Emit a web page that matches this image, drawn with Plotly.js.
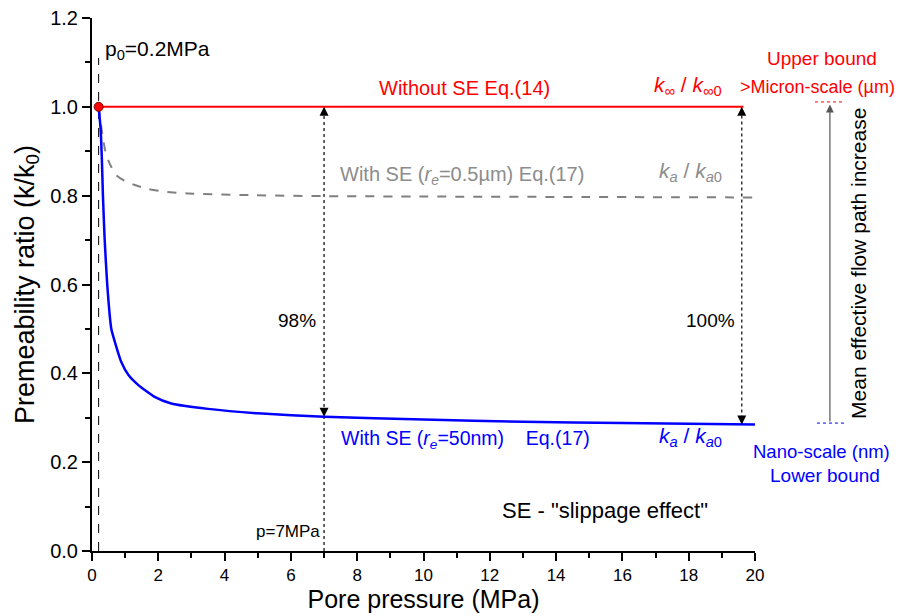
<!DOCTYPE html>
<html>
<head>
<meta charset="utf-8">
<script src="https://cdn.plot.ly/plotly-3.0.1.min.js"></script>
<style>html,body{margin:0;padding:0;background:#fff;}#chart{width:921px;height:616px;}</style>
</head>
<body>
<div id="chart"></div>
<script>
// ---- data ----
const pressureNano = [0.2, 0.26, 0.30, 0.33, 0.38, 0.46, 0.58, 0.70, 0.88, 1.1, 1.39, 1.89, 2.39, 3.5, 5, 7, 10, 13, 16, 20];
const ratioNano    = [1.0, 0.95, 0.876, 0.80, 0.704, 0.599, 0.501, 0.468, 0.426, 0.396, 0.374, 0.347, 0.332, 0.320, 0.310, 0.302, 0.296, 0.291, 0.288, 0.285];
const pressureMicro = [0.2, 0.33, 0.43, 0.58, 0.73, 0.99, 1.29, 1.69, 2.19, 2.9, 4.9, 7, 10, 15, 20];
const ratioMicro    = [1.0, 0.929, 0.891, 0.865, 0.846, 0.833, 0.824, 0.815, 0.809, 0.805, 0.801, 0.799, 0.798, 0.797, 0.796];
const pressureNoSE = [0.2, 19.65];
const ratioNoSE    = [1.0, 1.0];
const p0 = 0.2;
const pMid = 7;
const pEnd = 19.6;
const ratioMidNano = 0.302;
const ratioEndNano = 0.285;
const xTicks = [0, 2, 4, 6, 8, 10, 12, 14, 16, 18, 20];
const yTicks = [0.0, 0.2, 0.4, 0.6, 0.8, 1.0, 1.2];

const FONT = 'Liberation Sans, Arial, sans-serif';

const traces = [
  {x: [p0, p0], y: [0, 1.11], mode: 'lines', line: {color: '#000', width: 1, dash: 'dash'}, hoverinfo: 'skip'},
  {x: [pMid, pMid], y: [0, 1.0], mode: 'lines', line: {color: '#333', width: 1.5, dash: 'dot'}, hoverinfo: 'skip'},
  {x: [pEnd, pEnd], y: [ratioEndNano, 1.0], mode: 'lines', line: {color: '#333', width: 1.5, dash: 'dot'}, hoverinfo: 'skip'},
  {x: pressureMicro, y: ratioMicro, mode: 'lines', line: {color: '#808080', width: 2, dash: 'dash', shape: 'spline', smoothing: 0.5}},
  {x: pressureNoSE, y: ratioNoSE, mode: 'lines', line: {color: '#ff0000', width: 2}},
  {x: pressureNano, y: ratioNano, mode: 'lines', line: {color: '#0000ff', width: 2.5, shape: 'spline', smoothing: 0.5}},
  {x: [pMid, pEnd], y: [1.0, 1.0], mode: 'markers', marker: {symbol: 'arrow-up', size: 9, color: '#000'}, hoverinfo: 'skip'},
  {x: [pMid, pEnd], y: [ratioMidNano, ratioEndNano], mode: 'markers', marker: {symbol: 'arrow-down', size: 9, color: '#000'}, hoverinfo: 'skip'},
  {x: [p0], y: [1.0], mode: 'markers', marker: {symbol: 'circle', size: 9, color: '#ff0000', line: {color: '#800000', width: 1}}}
];

function txt(x, y, text, color, size, anchor) {
  return {x: x, y: y, xref: 'x', yref: 'y', text: text, showarrow: false,
    xanchor: anchor || 'center', yanchor: 'middle', font: {family: FONT, size: size, color: color}};
}
function side(x, y, text, color, size, extra) {
  return Object.assign({xref: 'paper', yref: 'y', x: x, y: y, text: text, showarrow: false,
    xanchor: 'center', yanchor: 'middle', font: {family: FONT, size: size, color: color}}, extra || {});
}

const annotations = [
  txt(0.33, 1.128, 'p<sub>0</sub>=0.2MPa', '#000', 21, 'left'),
  txt(11.25, 1.042, 'Without SE Eq.(14)', '#ff0000', 20),
  txt(19.05, 1.047, '<i>k</i><sub>∞</sub> / <i>k</i><sub>∞0</sub>', '#ff0000', 21, 'right'),
  txt(11.16, 0.846, 'With SE (<i>r<sub>e</sub></i>=0.5µm) Eq.(17)', '#8c8c8c', 20),
  txt(19.05, 0.853, '<i>k<sub>a</sub></i> / <i>k<sub>a</sub></i><sub>0</sub>', '#8c8c8c', 21, 'right'),
  txt(11.28, 0.25, 'With SE (<i>r<sub>e</sub></i>=50nm)    Eq.(17)', '#0000ff', 19.5),
  txt(19.05, 0.257, '<i>k<sub>a</sub></i> / <i>k<sub>a</sub></i><sub>0</sub>', '#0000ff', 21, 'right'),
  txt(6.82, 0.518, '98%', '#000', 19, 'right'),
  txt(19.46, 0.518, '100%', '#000', 19, 'right'),
  txt(15.48, 0.092, 'SE - "slippage effect"', '#000', 22),
  txt(6.94, 0.045, 'p=7MPa', '#000', 17, 'right'),
  // right side, outside the plot
  side(1.101, 1.108, 'Upper bound', '#ff0000', 19),
  side(1.095, 1.045, '&gt;Micron-scale (µm)', '#ff0000', 18),
  side(1.101, 0.223, 'Nano-scale (nm)', '#0000ff', 18.5),
  side(1.106, 0.171, 'Lower bound', '#0000ff', 19),
  side(1.155, 0.648, 'Mean effective flow path increase', '#000', 21, {textangle: -90}),
  {xref: 'paper', yref: 'y', x: 1.113, y: 1.005, axref: 'pixel', ayref: 'y', ax: 0, ay: 0.288, text: '', showarrow: true,
   arrowhead: 2, arrowsize: 1.3, arrowwidth: 1.2, arrowcolor: '#555'}
];

const shapes = [
  {type: 'line', xref: 'paper', yref: 'y', x0: 1.0905, x1: 1.1357, y0: 1.011, y1: 1.011, line: {color: '#ff0000', width: 1, dash: 'dot'}},
  {type: 'line', xref: 'paper', yref: 'y', x0: 1.0935, x1: 1.1357, y0: 0.288, y1: 0.288, line: {color: '#0000ff', width: 1, dash: 'dot'}}
];

const layout = {
  width: 921, height: 616,
  margin: {l: 92, r: 166, t: 18, b: 65},
  paper_bgcolor: '#fff', plot_bgcolor: '#fff',
  showlegend: false,
  xaxis: {
    range: [0, 20], tickvals: xTicks, ticktext: xTicks.map(String),
    showgrid: false, zeroline: false, showline: true, linecolor: '#000', linewidth: 2,
    ticks: 'outside', ticklen: 8, tickwidth: 2, tickcolor: '#000',
    minor: {dtick: 1, ticks: 'outside', ticklen: 5, tickwidth: 2, tickcolor: '#000'},
    tickfont: {family: FONT, size: 17, color: '#000'},
    title: {text: 'Pore pressure (MPa)', font: {family: FONT, size: 25, color: '#000'}, standoff: 6}
  },
  yaxis: {
    range: [0, 1.2], tickvals: yTicks, ticktext: yTicks.map(v => v.toFixed(1)),
    showgrid: false, zeroline: false, showline: true, linecolor: '#000', linewidth: 2,
    ticks: 'outside', ticklen: 8, tickwidth: 2, tickcolor: '#000',
    minor: {dtick: 0.1, ticks: 'outside', ticklen: 5, tickwidth: 2, tickcolor: '#000'},
    tickfont: {family: FONT, size: 20, color: '#000'},
    title: {text: 'Premeability ratio (k/k<sub>0</sub>)', font: {family: FONT, size: 27, color: '#000'}, standoff: 8}
  },
  annotations: annotations,
  shapes: shapes
};

Plotly.newPlot('chart', traces, layout, {staticPlot: true, displayModeBar: false});
</script>
</body>
</html>
